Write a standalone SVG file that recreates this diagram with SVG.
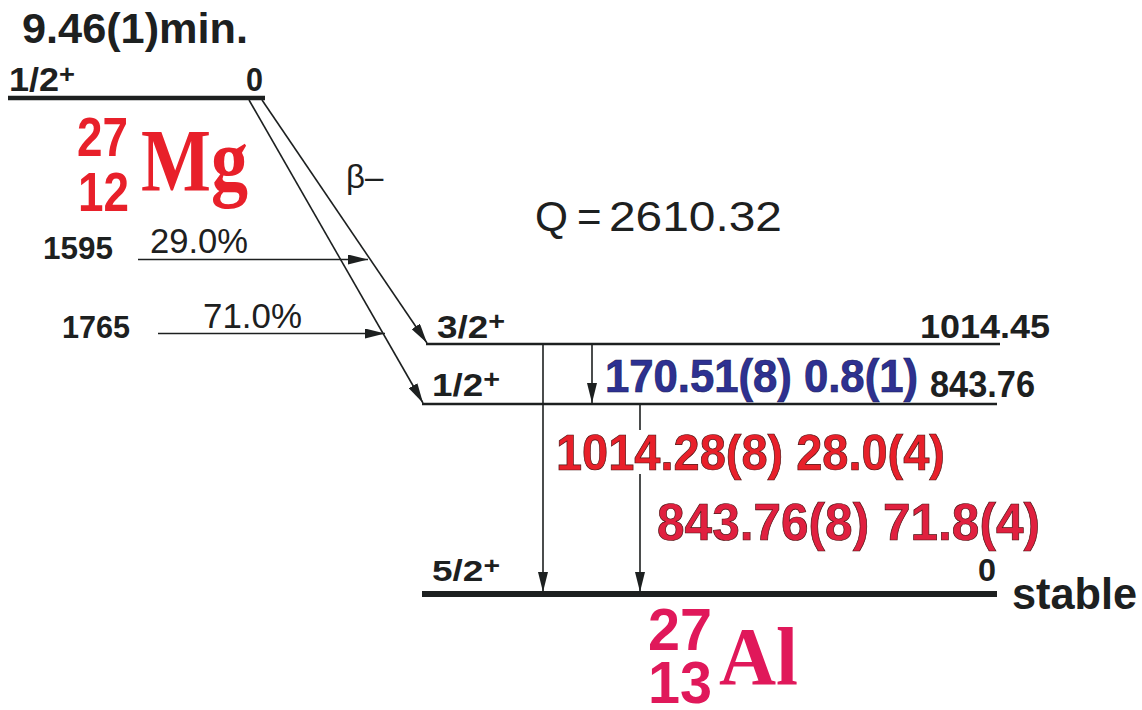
<svg xmlns="http://www.w3.org/2000/svg" width="1142" height="710" viewBox="0 0 1142 710">
<defs>
<marker id="ah" viewBox="0 0 20 10" refX="20" refY="5" markerWidth="20" markerHeight="10" markerUnits="userSpaceOnUse" orient="auto">
<path d="M0,0 L20,5 L0,10 Z" fill="#1d2020"/>
</marker>
<style>
.b{font-family:"Liberation Sans",Arial,sans-serif;font-weight:bold;fill:#1d2020}
.n{font-family:"Liberation Sans",Arial,sans-serif;fill:#1d2020}
.lvl{stroke:#1d2020;stroke-width:2.5;fill:none}
.con{stroke:#1d2020;stroke-width:1.6;fill:none}
.sym{font-family:"Liberation Serif","Times New Roman",serif;font-weight:bold}
.g{font-family:"Liberation Sans",Arial,sans-serif;font-weight:bold;stroke-width:0.7}
</style>
</defs>
<rect width="1142" height="710" fill="#ffffff"/>

<g id="parent">
<text class="b" x="22" y="43" font-size="42" textLength="226" lengthAdjust="spacingAndGlyphs">9.46(1)min.</text>
<line x1="8" y1="98" x2="265" y2="98" stroke="#1d2020" stroke-width="4.5"/>
<text class="b" x="9" y="91" font-size="33" textLength="66" lengthAdjust="spacingAndGlyphs">1/2<tspan font-size="25" dy="-8">+</tspan></text>
<text class="b" x="246" y="91" font-size="33" textLength="17" lengthAdjust="spacingAndGlyphs">0</text>
<text class="b" x="77" y="156" font-size="56" style="fill:#e8202a" textLength="51" lengthAdjust="spacingAndGlyphs">27</text>
<text class="b" x="78" y="211" font-size="56" style="fill:#e8202a" textLength="51" lengthAdjust="spacingAndGlyphs">12</text>
<text class="sym" x="141" y="190" font-size="88" fill="#e8202a" textLength="107" lengthAdjust="spacingAndGlyphs">Mg</text>
<text class="n" x="346" y="188" font-size="33">β–</text>
</g>

<g id="feed">
<text class="b" x="43" y="259" font-size="31" textLength="70" lengthAdjust="spacingAndGlyphs">1595</text>
<text class="n" x="150" y="253" font-size="35" textLength="98" lengthAdjust="spacingAndGlyphs">29.0%</text>
<text class="b" x="62" y="338" font-size="31" textLength="68" lengthAdjust="spacingAndGlyphs">1765</text>
<text class="n" x="203" y="328" font-size="35" textLength="99" lengthAdjust="spacingAndGlyphs">71.0%</text>
</g>

<g id="qvalue">
<text class="n" x="535" y="231" font-size="42"><tspan textLength="33" lengthAdjust="spacingAndGlyphs">Q</tspan><tspan x="577">=</tspan><tspan x="609" textLength="173" lengthAdjust="spacingAndGlyphs">2610.32</tspan></text>
</g>

<g id="level-1014">
<line class="lvl" x1="426" y1="344" x2="1000" y2="344"/>
<text class="b" x="437" y="338" font-size="32" textLength="68" lengthAdjust="spacingAndGlyphs">3/2<tspan font-size="25" dy="-8">+</tspan></text>
<text class="b" x="920" y="338" font-size="34" textLength="130" lengthAdjust="spacingAndGlyphs">1014.45</text>
</g>

<g id="level-843">
<line class="lvl" x1="422" y1="404" x2="997" y2="404"/>
<text class="b" x="432" y="396" font-size="32" textLength="68" lengthAdjust="spacingAndGlyphs">1/2<tspan font-size="25" dy="-8">+</tspan></text>
<text class="b" x="930" y="397" font-size="36" textLength="105" lengthAdjust="spacingAndGlyphs">843.76</text>
</g>

<g id="level-0">
<line x1="422" y1="594" x2="997" y2="594" stroke="#1d2020" stroke-width="6"/>
<text class="b" x="432" y="581" font-size="30" textLength="68" lengthAdjust="spacingAndGlyphs">5/2<tspan font-size="23" dy="-7">+</tspan></text>
<text class="b" x="978" y="581" font-size="32" textLength="18" lengthAdjust="spacingAndGlyphs">0</text>
<text class="b" x="1012" y="609" font-size="44" textLength="125" lengthAdjust="spacingAndGlyphs">stable</text>
<text class="b" x="648" y="650" font-size="60" style="fill:#e0185a" textLength="64" lengthAdjust="spacingAndGlyphs">27</text>
<text class="b" x="648" y="703" font-size="60" style="fill:#e0185a" textLength="64" lengthAdjust="spacingAndGlyphs">13</text>
<text class="sym" x="719" y="684" font-size="82" fill="#e0185a" textLength="79" lengthAdjust="spacingAndGlyphs">Al</text>
</g>

<g id="connectors">
<line class="con" x1="262" y1="100" x2="427" y2="343" marker-end="url(#ah)"/>
<line class="con" x1="249" y1="100" x2="423" y2="403" marker-end="url(#ah)"/>
<line class="con" x1="138" y1="259.5" x2="368" y2="259.5" marker-end="url(#ah)"/>
<line class="con" x1="158" y1="333.5" x2="385" y2="333.5" marker-end="url(#ah)"/>
<line class="con" x1="543" y1="345" x2="543" y2="592" marker-end="url(#ah)"/>
<line class="con" x1="592" y1="345" x2="592" y2="403" marker-end="url(#ah)"/>
<line class="con" x1="640" y1="405" x2="640" y2="430"/>
<line class="con" x1="640" y1="474" x2="640" y2="592" marker-end="url(#ah)"/>
</g>

<g id="gamma-labels">
<text class="g" x="605" y="392" font-size="46" fill="#2e3192" stroke="#1a1d60" stroke-width="0.5" textLength="313" lengthAdjust="spacingAndGlyphs">170.51(8) 0.8(1)</text>
<text class="g" x="556" y="470" font-size="50" fill="#e8202a" stroke="#4a1010" textLength="389" lengthAdjust="spacingAndGlyphs">1014.28(8) 28.0(4)</text>
<text class="g" x="657" y="540" font-size="51" fill="#e0203f" stroke="#4a1010" textLength="383" lengthAdjust="spacingAndGlyphs">843.76(8) 71.8(4)</text>
</g>
</svg>
